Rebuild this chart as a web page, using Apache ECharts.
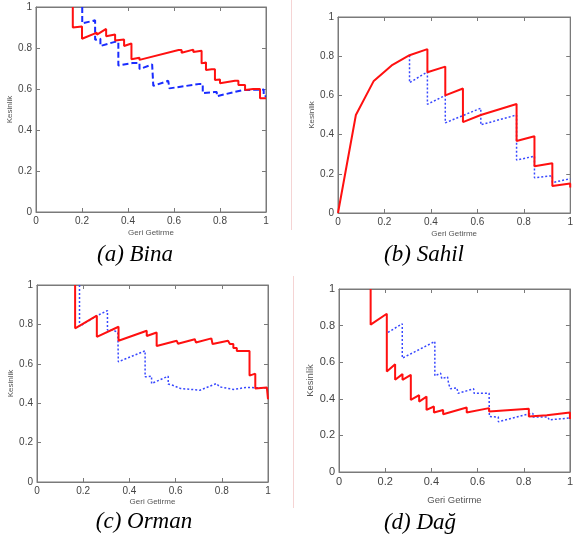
<!DOCTYPE html>
<html><head><meta charset="utf-8">
<script src="https://cdn.jsdelivr.net/npm/echarts@6/dist/echarts.min.js"></script>
<style>html,body{margin:0;padding:0;background:#fff}#c{width:576px;height:540px}</style>
</head><body><div id="c"></div>
<script>
// ---- data ----
const ticks = [0, 0.2, 0.4, 0.6, 0.8, 1];
const xLabel = 'Geri Getirme';
const yLabel = 'Kesinlik';
const captions = ['(a) Bina', '(b) Sahil', '(c) Orman', '(d) Dağ'];

const binaRed = [[0.16,1.0],[0.16,0.90],[0.2,0.905],[0.2,0.845],[0.265,0.875],[0.265,0.865],[0.305,0.893],[0.305,0.857],[0.344,0.866],[0.344,0.837],[0.383,0.842],[0.383,0.81],[0.415,0.822],[0.415,0.745],[0.45,0.752],[0.45,0.742],[0.62,0.79],[0.633,0.79],[0.633,0.777],[0.684,0.792],[0.684,0.78],[0.72,0.787],[0.72,0.725],[0.739,0.73],[0.739,0.693],[0.764,0.696],[0.778,0.696],[0.778,0.644],[0.8,0.646],[0.8,0.628],[0.865,0.64],[0.88,0.64],[0.88,0.62],[0.909,0.62],[0.909,0.595],[0.944,0.6],[0.974,0.6],[0.974,0.555],[1.0,0.555]];
const binaBlue = [[0.201,1.0],[0.201,0.92],[0.257,0.935],[0.257,0.84],[0.28,0.845],[0.28,0.81],[0.343,0.83],[0.358,0.83],[0.358,0.715],[0.42,0.727],[0.45,0.727],[0.45,0.697],[0.505,0.72],[0.51,0.72],[0.51,0.615],[0.575,0.64],[0.58,0.64],[0.58,0.603],[0.713,0.625],[0.725,0.625],[0.725,0.58],[0.775,0.585],[0.786,0.585],[0.786,0.565],[0.90,0.595],[0.99,0.597],[0.99,0.565],[1.0,0.565]];

const sahilRed = [[0,0],[0.077,0.50],[0.154,0.674],[0.231,0.753],[0.308,0.805],[0.385,0.836],[0.385,0.718],[0.462,0.747],[0.462,0.60],[0.538,0.635],[0.538,0.464],[0.615,0.50],[0.769,0.556],[0.769,0.367],[0.846,0.392],[0.846,0.239],[0.923,0.254],[0.923,0.138],[1.0,0.15],[1.0,0.13]];
const sahilBlue = [[0.308,0.805],[0.308,0.665],[0.385,0.72],[0.385,0.555],[0.462,0.60],[0.462,0.46],[0.615,0.535],[0.615,0.45],[0.769,0.50],[0.769,0.27],[0.846,0.29],[0.846,0.18],[0.923,0.19],[0.923,0.155],[1.0,0.175]];

const ormanRed = [[0.165,1.0],[0.165,0.78],[0.259,0.844],[0.259,0.737],[0.353,0.788],[0.353,0.717],[0.475,0.768],[0.475,0.741],[0.518,0.759],[0.518,0.69],[0.605,0.717],[0.61,0.717],[0.61,0.702],[0.683,0.725],[0.688,0.725],[0.688,0.708],[0.755,0.729],[0.76,0.729],[0.76,0.70],[0.827,0.717],[0.835,0.717],[0.835,0.70],[0.85,0.70],[0.85,0.68],[0.865,0.68],[0.865,0.665],[0.89,0.665],[0.89,0.655],[0.92,0.665],[0.92,0.54],[0.945,0.55],[0.945,0.475],[0.995,0.48],[1.0,0.42]];
const ormanBlue = [[0.184,1.0],[0.184,0.79],[0.259,0.844],[0.305,0.87],[0.305,0.771],[0.33,0.77],[0.35,0.76],[0.352,0.61],[0.468,0.666],[0.468,0.534],[0.496,0.537],[0.496,0.50],[0.568,0.537],[0.568,0.497],[0.59,0.49],[0.62,0.475],[0.705,0.466],[0.777,0.50],[0.79,0.483],[0.85,0.47],[0.906,0.48],[0.964,0.478],[1.0,0.478]];

const dagRed = [[0.137,1.0],[0.137,0.805],[0.207,0.865],[0.207,0.549],[0.243,0.589],[0.243,0.504],[0.275,0.535],[0.275,0.504],[0.311,0.531],[0.311,0.394],[0.347,0.42],[0.347,0.385],[0.379,0.412],[0.379,0.339],[0.411,0.358],[0.411,0.325],[0.451,0.339],[0.451,0.316],[0.553,0.352],[0.553,0.325],[0.65,0.349],[0.65,0.33],[0.822,0.345],[0.822,0.303],[0.9,0.31],[0.9,0.30],[1.0,0.325],[1.0,0.29]];
const dagBlue = [[0.212,0.763],[0.274,0.81],[0.274,0.622],[0.415,0.713],[0.415,0.525],[0.44,0.54],[0.445,0.51],[0.47,0.52],[0.475,0.48],[0.483,0.455],[0.51,0.46],[0.516,0.43],[0.583,0.455],[0.585,0.43],[0.65,0.43],[0.651,0.303],[0.69,0.30],[0.69,0.275],[0.819,0.317],[0.84,0.32],[0.84,0.30],[0.905,0.30],[0.91,0.285],[1.0,0.295]];

// ---- layout / style ----
const panels = [
  {red: binaRed, blue: binaBlue, grid:{left:36,top:7,width:230,height:205}, lab:10, nm:8, xg:17, yg:17, blueType:[6,3], blueW:2, blueColor:'#1a2cff', cap:[135,255]},
  {red: sahilRed, blue: sahilBlue, grid:{left:338,top:17,width:237,height:196}, lab:10, nm:8, xg:17, yg:18, blueType:[2,2], blueW:1.5, blueColor:'#3848ff', cap:[424,255]},
  {red: ormanRed, blue: ormanBlue, grid:{left:37,top:285,width:231,height:197}, lab:10, nm:8, xg:16, yg:17, blueType:[2,2], blueW:1.5, blueColor:'#3848ff', cap:[144,522]},
  {red: dagRed, blue: dagBlue, grid:{left:339,top:289,width:233,height:183}, lab:11, nm:9.5, xg:23, yg:15, blueType:[2,2], blueW:1.5, blueColor:'#3848ff', cap:[420,523]}
];

const frame = '#7a7a7a';
const txt = '#444';
const grids = [], xAxes = [], yAxes = [], series = [], graphics = [];

panels.forEach((p, i) => {
  grids.push(Object.assign({show:true, borderColor:frame, borderWidth:1, backgroundColor:'#fff'}, p.grid));
  const common = {type:'value', min:0, max:1, interval:0.2, gridIndex:i, splitLine:{show:false},
    axisLine:{show:true, onZero:false, lineStyle:{color:frame, width:1}},
    axisTick:{show:true, inside:true, length:4, lineStyle:{color:frame}, customValues: ticks}};
  const labelStyle = {color:txt, fontSize:p.lab, fontFamily:'"Liberation Sans", Arial, sans-serif', margin:4, customValues: ticks};
  xAxes.push(Object.assign({}, common, {position:'bottom', axisLabel:labelStyle,
    name:xLabel, nameLocation:'middle', nameGap:p.xg,
    nameTextStyle:{color:'#555', fontSize:p.nm, fontFamily:'"Liberation Sans", Arial, sans-serif'}}));
  xAxes.push(Object.assign({}, common, {position:'top', axisLabel:{show:false}}));
  yAxes.push(Object.assign({}, common, {position:'left', axisLabel:labelStyle,
    name:yLabel, nameLocation:'middle', nameGap:p.yg, nameRotate:90,
    nameTextStyle:{color:'#555', fontSize:p.nm, fontFamily:'"Liberation Sans", Arial, sans-serif'}}));
  yAxes.push(Object.assign({}, common, {position:'right', axisLabel:{show:false}}));
  series.push({type:'line', xAxisIndex:2*i, yAxisIndex:2*i, data:p.blue, showSymbol:false, silent:true,
    lineStyle:{color:p.blueColor, width:p.blueW, type:p.blueType}, z:2});
  series.push({type:'line', xAxisIndex:2*i, yAxisIndex:2*i, data:p.red, showSymbol:false, silent:true,
    lineStyle:{color:'#ff1010', width:2}, z:3});
  graphics.push({type:'text', x:p.cap[0], y:p.cap[1], style:{text:captions[i], fill:'#000',
    font:'italic 23px "Liberation Serif", "Times New Roman", serif', textAlign:'center', textVerticalAlign:'middle'}});
});

graphics.push({type:'line', shape:{x1:291.5,y1:0,x2:291.5,y2:230}, style:{stroke:'#f5d4d4', lineWidth:1}});
graphics.push({type:'line', shape:{x1:293.5,y1:276,x2:293.5,y2:508}, style:{stroke:'#f5d4d4', lineWidth:1}});

const chart = echarts.init(document.getElementById('c'), null, {renderer:'canvas'});
chart.setOption({animation:false, backgroundColor:'#fff', grid:grids, xAxis:xAxes, yAxis:yAxes, series:series, graphic:graphics});
</script></body></html>
